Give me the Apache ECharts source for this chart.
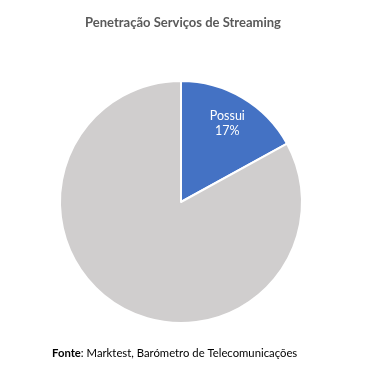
<!DOCTYPE html>
<html><head><meta charset="utf-8">
<script src="https://cdn.jsdelivr.net/npm/echarts@6/dist/echarts.min.js"></script>
<style>html,body{margin:0;padding:0;background:#fff}#c{width:366px;height:371px}</style>
</head><body><div id="c"></div>
<script>
const categories = ['Possui', 'Não possui'];
const values = [17, 83];
const colors = ['#4472C4', '#D0CECE'];
const showLabel = [true, false];

const chart = echarts.init(document.getElementById('c'));
const data = categories.map((n, i) => ({ name: n, value: values[i], itemStyle: { color: colors[i] } }));
chart.setOption({
  animation: false,
  title: [{
    text: 'Penetração Serviços de Streaming',
    left: 'center', top: 11,
    textStyle: { fontFamily: 'Lato', fontSize: 13, fontWeight: 'bold', color: '#595959' }
  }, {
    text: '{b|Fonte}: Marktest, Barómetro de Telecomunicações',
    left: 47, top: 343,
    textStyle: { fontFamily: 'Lato', fontSize: 11.3, fontWeight: 'normal', color: '#000',
      rich: { b: { fontFamily: 'Lato', fontSize: 11.3, fontWeight: 'bold', color: '#000' } } }
  }],
  series: [{
    type: 'pie', center: [181, 202], radius: 121, startAngle: 90, clockwise: true,
    label: { show: false }, labelLine: { show: false }, silent: true,
    itemStyle: { borderColor: '#fff', borderWidth: 2 },
    data: data
  }, {
    type: 'pie', center: [181, 202], radius: [55, 121], startAngle: 90, clockwise: true,
    silent: true, labelLine: { show: false },
    itemStyle: { color: 'transparent', borderWidth: 0 },
    label: { position: 'inside', formatter: '{b}\n{d}%', color: '#fff', fontFamily: 'Lato', fontSize: 12.5, lineHeight: 15 },
    data: categories.map((n, i) => ({ name: n, value: values[i], itemStyle: { color: 'transparent' }, label: { show: showLabel[i] } }))
  }]
});
</script></body></html>
